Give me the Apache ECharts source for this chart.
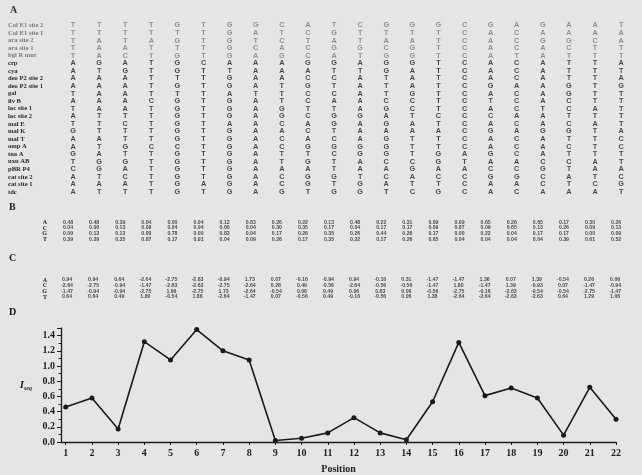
<!DOCTYPE html>
<html><head><meta charset="utf-8">
<script src="https://cdn.jsdelivr.net/npm/echarts@6/dist/echarts.min.js"></script>
<style>html,body{margin:0;padding:0;background:#e5e5e5;overflow:hidden}#c{width:642px;height:475px}</style>
</head><body><div id="c"></div>
<script>
// ---------- DATA ----------
const siteNames = ["Col E1 site 2","Col E1 site 1","ara site 2","ara site 1","bgl R mut","crp","cya",
  "deo P2 site 2","deo P2 site 1","gal","ilv B","lac site 1","lac site 2","mal E","mal K","mal T",
  "omp A","tna A","uxu AB","pBR P4","cat site 2","cat site 1","tdc"];
// alignment columns (position 1..22), each string lists the base of every site top to bottom
const alignmentColumns = [
  "TTTTTAAAATATATGAAGTCAAA","TTAAAGTAAAAATTTATAGGTAT","TTTACAGAAAAATCTTGTGACAT",
  "TTATTTTTTTCTTTTTCTTTTTT","GTGTGGGTGTGGGGGGCGGGGGG","TTTTTCTTTTTTTTTTTTTTTAT",
  "GGGGGATGGAGGGAGGGGGGGGG","GATCAAAAATAAAAAAAAAAAAA","CTCAGAAATTTGGCACCTTACCG",
  "ACTCCGACGCCTCACAGTGAGGT","TGAGAGTCTCATGGTCGCTTGTG","CTTGTATAAAAAGAAAGGAATGG",
  "GTACGGGTTTCGAGAGGGCACAT","GTAGGGAAAGCCTAATTTCGATC","GTTTTTTTTTTTCTATTGGACTG",
  "CCCCCCCCCCCCCCCCCATACCC","GAAAAAAAGATACAGAAGACGAA","ACCCTCCCACCCACACCCACGAC",
  "GAGAAAAAAAATAAGAAACGCCA","AAGCTTTTGGCCTCGTCTCTATA","AACTTTTTTTTATATTTTAATCA",
  "TAATTATAGTTTTTACCTTACGT"];
const bases = ["A","C","G","T"];
const positions = [1,2,3,4,5,6,7,8,9,10,11,12,13,14,15,16,17,18,19,20,21,22];
// B: base frequencies
const freqA = [0.48,0.48,0.39,0.04,0.00,0.04,0.13,0.83,0.26,0.22,0.13,0.48,0.22,0.31,0.09,0.09,0.65,0.26,0.65,0.17,0.30,0.26];
const freqC = [0.04,0.00,0.13,0.09,0.04,0.04,0.00,0.04,0.30,0.35,0.17,0.04,0.17,0.17,0.09,0.87,0.09,0.65,0.13,0.26,0.09,0.13];
const freqG = [0.09,0.13,0.13,0.00,0.78,0.00,0.83,0.04,0.17,0.26,0.35,0.26,0.44,0.26,0.17,0.00,0.22,0.04,0.17,0.17,0.00,0.09];
const freqT = [0.39,0.39,0.35,0.87,0.17,0.91,0.04,0.09,0.26,0.17,0.35,0.22,0.17,0.26,0.65,0.04,0.04,0.04,0.04,0.39,0.61,0.52];
// C: weight matrix
const wA = [0.94,0.94,0.64,-2.64,-2.75,-2.63,-0.94,1.73,0.07,-0.16,-0.94,0.94,-0.16,0.31,-1.47,-1.47,1.36,0.07,1.39,-0.54,0.26,0.06];
const wC = [-2.64,-2.75,-0.94,-1.47,-2.63,-2.63,-2.75,-2.64,0.28,0.49,-0.56,-2.64,-0.56,-0.56,-1.47,1.80,-1.47,1.39,-0.93,0.07,-1.47,-0.94];
const wG = [-1.47,-0.94,-0.94,-2.75,1.66,-2.75,1.73,-2.64,-0.54,0.06,0.49,0.06,0.83,0.06,-0.56,-2.75,-0.16,-2.63,-0.54,-0.54,-2.75,-1.47];
const wT = [0.64,0.64,0.49,1.80,-0.54,1.86,-2.64,-1.47,0.07,-0.56,0.49,-0.16,-0.56,0.06,1.38,-2.64,-2.64,-2.63,-2.63,0.64,1.29,1.06];
// D: I_seq per position
const iseq = [0.46,0.58,0.17,1.32,1.08,1.48,1.20,1.08,0.02,0.05,0.12,0.32,0.12,0.03,0.53,1.31,0.61,0.71,0.58,0.09,0.72,0.30];
const yTickLabels = ["0.0","0.2","0.4","0.6","0.8","1.0","1.2","1.4"];

// ---------- BUILD ----------
const serif = '"Liberation Serif","DejaVu Serif",serif';
const sans = '"Liberation Sans",Arial,sans-serif';
const ink = '#1e1e1e';
const posCats = positions.map(String);

const alignData = [];
alignmentColumns.forEach((col, c) => {
  for (let r = 0; r < col.length; r++) alignData.push({value: [c, r], letter: col[r],
    label: {color: r < 5 ? '#7a7a7a' : '#1e1e1e'}});
});
function tableData(rows, fmt) {
  const out = [];
  rows.forEach((arr, r) => arr.forEach((v, c) => out.push({value: [c, r], txt: fmt(v)})));
  return out;
}
const bData = tableData([freqA, freqC, freqG, freqT], v => v.toFixed(2));
const cData = tableData([wA, wC, wG, wT], v => v.toFixed(2));

const hiddenX = (gi) => ({type: 'category', gridIndex: gi, data: posCats, show: false, boundaryGap: true});
const catY = (gi, data, lbl) => ({
  type: 'category', gridIndex: gi, data: data, inverse: true, boundaryGap: true,
  axisLine: {show: false}, axisTick: {show: false}, splitLine: {show: false},
  axisLabel: Object.assign({interval: 0, hideOverlap: false}, lbl)
});

const chart = echarts.init(document.getElementById('c'), null, {renderer: 'canvas'});
chart.setOption({
  backgroundColor: '#e5e5e5',
  animation: false,
  grid: [
    {left: 60, top: 21.7, width: 574.2, height: 174.1},
    {left: 55, top: 219.5, width: 574.2, height: 22.7},
    {left: 54, top: 277.2, width: 574.2, height: 22.7},
    {left: 61, right: 26, top: 328, bottom: 25}
  ],
  xAxis: [hiddenX(0), hiddenX(1), hiddenX(2), {
    type: 'value', gridIndex: 3, min: 0.82, max: 22,
    name: 'Position', nameLocation: 'middle', nameGap: 22,
    nameTextStyle: {fontFamily: serif, fontWeight: 'bold', fontSize: 10, color: ink},
    axisLine: {lineStyle: {color: ink, width: 1.3}},
    axisTick: {customValues: positions, length: 3, lineStyle: {color: ink}},
    axisLabel: {customValues: positions, margin: 6, fontFamily: serif, fontWeight: 'bold', fontSize: 10, color: ink},
    splitLine: {show: false}
  }],
  yAxis: [
    catY(0, siteNames, {align: 'left', margin: 52, fontFamily: serif, fontWeight: 'bold', fontSize: 6.6,
      color: (v, i) => i < 5 ? '#7a7a7a' : '#2a2a2a'}),
    catY(1, bases, {margin: 8, fontFamily: serif, fontWeight: 'bold', fontSize: 6, color: ink}),
    catY(2, bases, {margin: 7, fontFamily: serif, fontWeight: 'bold', fontSize: 6, color: ink}),
    {
      type: 'value', gridIndex: 3, min: 0, max: 1.5, interval: 0.2,
      name: '{i|I}{s|seq}', nameLocation: 'middle', nameGap: 29, nameRotate: 0,
      nameTextStyle: {rich: {
        i: {fontFamily: serif, fontStyle: 'italic', fontWeight: 'bold', fontSize: 11, color: ink},
        s: {fontFamily: serif, fontStyle: 'italic', fontWeight: 'bold', fontSize: 6, color: ink, padding: [6, 0, 0, 0]}
      }},
      axisLine: {show: true, lineStyle: {color: ink, width: 1.3}},
      axisTick: {show: true, length: 4, lineStyle: {color: ink}},
      minorTick: {show: true, splitNumber: 2, length: 2.5, lineStyle: {color: ink}},
      axisLabel: {margin: 6, fontFamily: serif, fontWeight: 'bold', fontSize: 10, color: ink,
        formatter: v => { const k = Math.round(v * 5); return Math.abs(v * 5 - k) < 1e-6 && yTickLabels[k] ? yTickLabels[k] : ''; }},
      splitLine: {show: false}, minorSplitLine: {show: false}
    }
  ],
  graphic: [
    {type: 'text', left: 10, top: 5, style: {text: 'A', font: 'bold 10px ' + serif, fill: '#333'}},
    {type: 'text', left: 9, top: 202, style: {text: 'B', font: 'bold 10px ' + serif, fill: '#222'}},
    {type: 'text', left: 9, top: 253, style: {text: 'C', font: 'bold 10px ' + serif, fill: '#222'}},
    {type: 'text', left: 9, top: 307, style: {text: 'D', font: 'bold 10px ' + serif, fill: '#111'}}
  ],
  series: [
    {type: 'scatter', xAxisIndex: 0, yAxisIndex: 0, data: alignData, symbolSize: 1, silent: true,
      itemStyle: {color: 'rgba(0,0,0,0)'},
      label: {show: true, position: 'inside', fontFamily: sans, fontWeight: 'bold', fontSize: 7.3,
        formatter: p => p.data.letter},
      emphasis: {disabled: true}},
    {type: 'scatter', xAxisIndex: 1, yAxisIndex: 1, data: bData, symbolSize: 1, silent: true,
      itemStyle: {color: 'rgba(0,0,0,0)'},
      label: {show: true, position: 'inside', fontFamily: sans, fontWeight: 'bold', fontSize: 5.2, color: ink,
        formatter: p => p.data.txt}, emphasis: {disabled: true}},
    {type: 'scatter', xAxisIndex: 2, yAxisIndex: 2, data: cData, symbolSize: 1, silent: true,
      itemStyle: {color: 'rgba(0,0,0,0)'},
      label: {show: true, position: 'inside', fontFamily: sans, fontWeight: 'bold', fontSize: 5.2, color: ink,
        formatter: p => p.data.txt}, emphasis: {disabled: true}},
    {type: 'line', xAxisIndex: 3, yAxisIndex: 3, data: positions.map((p, i) => [p, iseq[i]]),
      symbol: 'circle', symbolSize: 5, showSymbol: true, silent: true,
      lineStyle: {color: '#1a1a1a', width: 1.6}, itemStyle: {color: '#1a1a1a'}, emphasis: {disabled: true}}
  ]
});
</script></body></html>
